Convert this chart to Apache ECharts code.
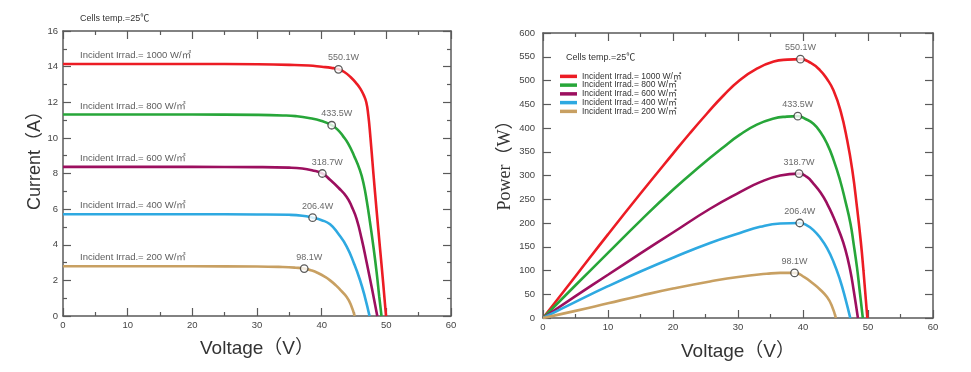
<!DOCTYPE html>
<html><head><meta charset="utf-8">
<script src="https://cdn.jsdelivr.net/npm/echarts@6/dist/echarts.min.js"></script>
<style>html,body{margin:0;padding:0;background:#fff}#c{width:971px;height:372px}</style>
</head><body><div id="c"></div>
<script>
// ---------- data ----------
const irradiances = ['1000', '800', '600', '400', '200'];
const maxPowerLabels = ['550.1W', '433.5W', '318.7W', '206.4W', '98.1W'];
const cellsTempText = 'Cells temp.=25\u2103';

// I-V curves: [voltage V, current A]
const iv1000 = [[0,14.15],[20,14.15],[30,14.13],[35,14.1],[38,14.06],[40,13.99],[41.5,13.93],[42.6,13.85],[43.5,13.7],[44.5,13.4],[45.4,13.05],[46,12.75],[46.5,12.4],[46.9,12.0],[47.2,11.3],[47.5,10.2],[48,8.0],[48.5,5.9],[49,3.9],[49.5,1.9],[49.95,0]];
const iv800  = [[0,11.31],[20,11.31],[30,11.29],[34,11.26],[36,11.22],[38,11.12],[40,10.95],[41.55,10.71],[42.5,10.45],[43.3,10.1],[44.1,9.68],[45,9.0],[45.9,8.2],[46.5,7.4],[47,6.4],[47.5,5.2],[48,3.9],[48.5,2.45],[48.9,1.1],[49.25,0]];
const iv600  = [[0,8.37],[20,8.37],[30,8.36],[35,8.33],[37,8.28],[38.5,8.18],[40.1,8.0],[41.3,7.65],[42.6,7.2],[43.87,6.68],[44.7,6.1],[45.4,5.45],[46.2,4.3],[46.96,3.0],[47.8,1.5],[48.6,0]];
const iv400  = [[0,5.71],[20,5.71],[30,5.70],[35,5.68],[37,5.63],[38.6,5.52],[40,5.38],[41.3,5.15],[42.6,4.6],[43.87,3.9],[45,2.95],[45.9,2.05],[46.7,1.05],[47.4,0]];
const iv200  = [[0,2.79],[20,2.79],[30,2.78],[34,2.75],[36,2.71],[37.3,2.66],[38.5,2.55],[39.5,2.4],[40.5,2.2],[41.3,2.0],[42.2,1.72],[43,1.42],[43.87,1.07],[44.5,0.65],[45.1,0]];
const ivMaxPoints = [[42.6,13.85],[41.55,10.71],[40.1,8.0],[38.6,5.52],[37.3,2.66]];

// P-V curves: [voltage V, power W]
const pv1000 = [[0,0],[5,88],[10,176],[15,262],[20,346],[22.6,389],[25.2,430],[27.8,469],[30.3,501],[32.9,525],[35.5,540],[37.6,544],[39.6,545],[41.2,537],[42.6,522],[43.7,503],[44.7,479],[45.8,435],[46.8,374],[47.6,310],[48.3,234],[48.9,160],[49.3,100],[49.9,0]];
const pv800  = [[0,0],[5,69],[10,137],[15,205],[20,270],[24.2,320],[27.8,360],[30.3,386],[32.9,407],[35.5,420],[37.5,424],[39.2,425],[40.4,419],[41.6,409],[42.7,391],[43.7,367],[44.7,333],[45.7,290],[46.5,247],[47.3,199],[47.8,155],[48.3,107],[48.7,60],[49.2,0]];
const pv600  = [[0,0],[5,46],[10,91],[15,136],[20,180],[25.7,230],[30.3,265],[33.4,286],[36.5,300],[39.4,304],[40.6,297],[41.6,283],[42.7,264],[43.7,241],[44.7,212],[45.7,178],[46.5,145],[47.27,100],[47.8,58],[48.45,0]];
const pv400  = [[0,0],[5,34],[10,67],[15,98],[20,127],[25.7,158],[30.3,179],[33.4,192],[36.5,199],[39.5,200],[40.6,195],[41.6,185],[42.7,168],[43.7,147],[44.7,118],[45.7,80],[46.5,42],[47.27,0]];
const pv200  = [[0,0],[5,15],[10,31],[15,47],[20,62],[25.7,77],[30.3,87],[34.4,93],[36.5,95],[38.7,95],[40.2,86],[41.6,72],[42.7,59],[43.7,44],[44.4,27],[45.06,0]];
const pvMaxPoints = [[39.6,545],[39.2,425],[39.4,304],[39.5,200],[38.7,95]];

// ---------- styles ----------
const colors = ['#ec1c24', '#27a639', '#9c0f5f', '#2ea9e1', '#c8a062'];
const SANS = '"Liberation Sans", Arial, "Noto Sans CJK SC", sans-serif';
const SERIF = '"Liberation Serif", "Times New Roman", "Noto Sans CJK SC", serif';
const AXIS_COLOR = '#5a5a5a';
const LABEL_COLOR = '#444';

const ivCurves = [iv1000, iv800, iv600, iv400, iv200];
const pvCurves = [pv1000, pv800, pv600, pv400, pv200];
const pvNames = irradiances.map(v => 'Incident Irrad.= ' + v + ' W/\u33A1');

function axisBase(extra) {
  return Object.assign({
    type: 'value',
    axisLine: { show: true, onZero: false, lineStyle: { color: AXIS_COLOR, width: 1.5 } },
    axisTick: { show: true, inside: true, length: 8, lineStyle: { color: AXIS_COLOR, width: 1.2 } },
    splitLine: { show: false },
    axisLabel: { show: true, color: LABEL_COLOR, fontSize: 9.5, fontFamily: SANS, margin: 5 }
  }, extra);
}

const xAxes = [];
const yAxes = [];
[0, 1].forEach(g => {
  const xCommon = { gridIndex: g, min: 0, max: 60, interval: 10,
    minorTick: { show: true, splitNumber: 2, length: 4, lineStyle: { color: AXIS_COLOR, width: 1.2 } } };
  xAxes.push(axisBase(Object.assign({}, xCommon, {
    position: 'bottom',
    name: 'Voltage\uFF08V\uFF09', nameLocation: 'middle', nameGap: g === 0 ? 23 : 24,
    nameTextStyle: { fontSize: 19, color: '#333', fontFamily: SANS }
  })));
  xAxes.push(axisBase(Object.assign({}, xCommon, { position: 'top', axisLabel: { show: false } })));
});
const yLeftCommon = { gridIndex: 0, min: 0, max: 16, interval: 2,
  minorTick: { show: true, splitNumber: 2, length: 4, lineStyle: { color: AXIS_COLOR, width: 1.2 } } };
yAxes.push(axisBase(Object.assign({}, yLeftCommon, { position: 'left' })));
yAxes.push(axisBase(Object.assign({}, yLeftCommon, { position: 'right', axisLabel: { show: false } })));
const yRightCommon = { gridIndex: 1, min: 0, max: 600, interval: 50 };
yAxes.push(axisBase(Object.assign({}, yRightCommon, { position: 'left', axisLabel: { show: true, color: LABEL_COLOR, fontSize: 9.5, fontFamily: SANS, margin: 8 } })));
yAxes.push(axisBase(Object.assign({}, yRightCommon, { position: 'right', axisLabel: { show: false } })));

const series = [];
ivCurves.forEach((d, i) => {
  series.push({
    name: 'IV ' + irradiances[i], type: 'line', xAxisIndex: 0, yAxisIndex: 0,
    data: d, smooth: 0.5, showSymbol: false, symbol: 'none',
    color: colors[i], lineStyle: { width: 2.6, color: colors[i] }, z: 2, silent: true
  });
});
pvCurves.forEach((d, i) => {
  series.push({
    name: pvNames[i], type: 'line', xAxisIndex: 2, yAxisIndex: 2,
    data: d, smooth: 0.5, showSymbol: false, symbol: 'none',
    color: colors[i], lineStyle: { width: 2.6, color: colors[i] }, z: 2, silent: true
  });
});
series.push({
  type: 'scatter', xAxisIndex: 0, yAxisIndex: 0, symbolSize: 1, silent: true, z: 4,
  itemStyle: { color: 'transparent' },
  data: ivCurves.map(c => [c[0][0], c[0][1]]),
  label: { show: true, position: 'right', offset: [11.5, -8.5], fontSize: 9.5, color: '#333', fontFamily: SANS,
    formatter: p => 'Incident Irrad.= ' + irradiances[p.dataIndex] + ' W/\u33A1' }
});
const markerStyle = { color: '#fff', borderColor: '#333', borderWidth: 1.3 };
series.push({
  type: 'scatter', xAxisIndex: 0, yAxisIndex: 0, symbol: 'circle', symbolSize: 7.5, z: 5, silent: true,
  itemStyle: markerStyle, data: ivMaxPoints,
  label: { show: true, position: 'top', distance: 2.5, offset: [5, 0], fontSize: 9, color: LABEL_COLOR, fontFamily: SANS,
    formatter: p => maxPowerLabels[p.dataIndex] }
});
series.push({
  type: 'scatter', xAxisIndex: 2, yAxisIndex: 2, symbol: 'circle', symbolSize: 7.5, z: 5, silent: true,
  itemStyle: markerStyle, data: pvMaxPoints,
  label: { show: true, position: 'top', distance: 2.5, fontSize: 9, color: LABEL_COLOR, fontFamily: SANS,
    formatter: p => maxPowerLabels[p.dataIndex] }
});

const option = {
  animation: false,
  backgroundColor: '#fff',
  title: [
    { text: cellsTempText, left: 80, top: 14.5, padding: 0, textStyle: { fontSize: 9, fontWeight: 'normal', color: '#333', fontFamily: SANS } },
    { text: cellsTempText, left: 566, top: 53.5, padding: 0, textStyle: { fontSize: 9, fontWeight: 'normal', color: '#333', fontFamily: SANS } }
  ],
  legend: {
    data: pvNames, orient: 'vertical', left: 560, top: 72, padding: 0,
    itemWidth: 17, itemHeight: 3.5, itemGap: 0, icon: 'rect', selectedMode: false,
    textStyle: { fontSize: 8.5, lineHeight: 8.75, color: '#333', fontFamily: SANS }
  },
  grid: [
    { left: 63, top: 31, width: 388, height: 285 },
    { left: 543, top: 33, width: 390, height: 285 }
  ],
  xAxis: xAxes,
  yAxis: yAxes,
  graphic: [
    { type: 'text', x: 35, y: 156, rotation: Math.PI / 2, silent: true,
      style: { text: 'Current\uFF08A\uFF09', fontSize: 18, fontFamily: SANS, fill: '#333', align: 'center', verticalAlign: 'middle' } },
    { type: 'text', x: 505, y: 161, rotation: Math.PI / 2, silent: true,
      style: { text: 'Power\uFF08W\uFF09', fontSize: 18, fontFamily: SERIF, fill: '#333', align: 'center', verticalAlign: 'middle' } }
  ],
  series: series
};

const chart = echarts.init(document.getElementById('c'), null, { renderer: 'canvas' });
chart.setOption(option);
</script>
</body></html>
